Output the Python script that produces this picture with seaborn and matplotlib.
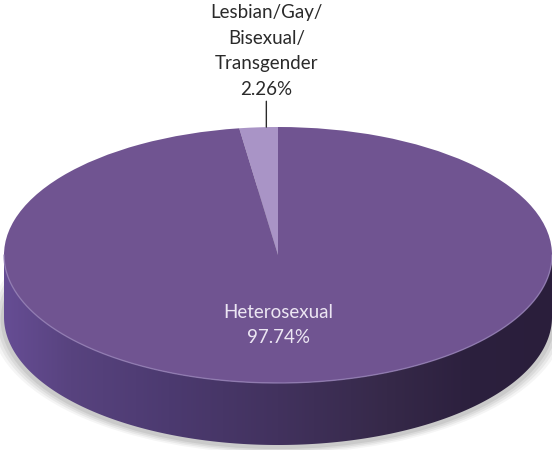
import numpy as np
import matplotlib
matplotlib.use("Agg")
import matplotlib.pyplot as plt
import seaborn as sns
from matplotlib.patches import Polygon, Ellipse
from matplotlib.colors import LinearSegmentedColormap

categories = ["Lesbian/Gay/\nBisexual/\nTransgender", "Heterosexual"]
values = [2.26, 97.74]
colors = ["#a994c6", "#705491"]

sns.set_theme(style="white")
plt.rcParams['font.family'] = ['Lato', 'DejaVu Sans']

W, H = 552, 450
fig = plt.figure(figsize=(W / 100, H / 100), dpi=100)
ax = fig.add_axes([0, 0, 1, 1])
cx, cy, a, b = 278, 255, 274, 128
depth = 62 / b


def px(x, y):
    return (x - cx) / a, (cy - y) / b


# soft shadow
for i, al in enumerate([0.04, 0.05, 0.06, 0.07]):
    s = 1.0 + 0.012 * (4 - i)
    ax.add_patch(Ellipse((0.0, -depth - 0.02), 2 * s, 2 * s, facecolor="#000000",
                         alpha=al, lw=0, zorder=0))

# side band of the 3D pie
t = np.linspace(np.pi, 2 * np.pi, 300)
top = np.column_stack([np.cos(t), np.sin(t)])
bot = np.column_stack([np.cos(t[::-1]), np.sin(t[::-1]) - depth])
side = Polygon(np.vstack([top, bot]), closed=True, facecolor="none", lw=0, zorder=1)
ax.add_patch(side)
cmap = LinearSegmentedColormap.from_list(
    "side", [(0.0, "#664d94"), (0.12, "#58437f"), (0.3, "#4c3a70"),
             (0.5, "#42325e"), (0.7, "#362949"), (0.85, "#2c203e"),
             (1.0, "#2a1e3b")])
grad = np.linspace(0, 1, 256).reshape(1, -1)
im = ax.imshow(grad, cmap=cmap, extent=[-1, 1, -1 - depth, 0.0], aspect="auto",
               zorder=1, interpolation="bicubic")
im.set_clip_path(side)

# top face
wedges, _ = ax.pie(values, colors=colors, startangle=90, counterclock=True,
                   radius=1, center=(0, 0), wedgeprops=dict(linewidth=0))
for w in wedges:
    w.set_zorder(2)

# rim highlight
ax.plot(np.cos(t), np.sin(t), color="#9580b6", lw=1.0, alpha=0.8, zorder=3)

ax.set_aspect("auto")
ax.set_xlim(-cx / a, (W - cx) / a)
ax.set_ylim((cy - H) / b, cy / b)
ax.axis("off")

# labels
mid = np.deg2rad(90 + 360 * values[0] / 100 / 2)
lx = np.cos(mid) * 0.6
ax.annotate(categories[0] + "\n" + f"{values[0]:.2f}%",
            xy=(lx, np.sqrt(1 - lx ** 2)), xytext=(lx, px(0, 98)[1]),
            ha="center", va="bottom", fontsize=13.5, color="#2a2a2a",
            linespacing=1.62,
            arrowprops=dict(arrowstyle="-", color="#2a2a2a", lw=1,
                            shrinkA=0, shrinkB=0), zorder=5)

hx, hy = px(278, 325)
ax.text(hx, hy, categories[1] + "\n" + f"{values[1]:.2f}%", ha="center",
        va="center", fontsize=13.5, color="#ece6f3", linespacing=1.62, zorder=5)

fig.savefig("out.png", dpi=100)
